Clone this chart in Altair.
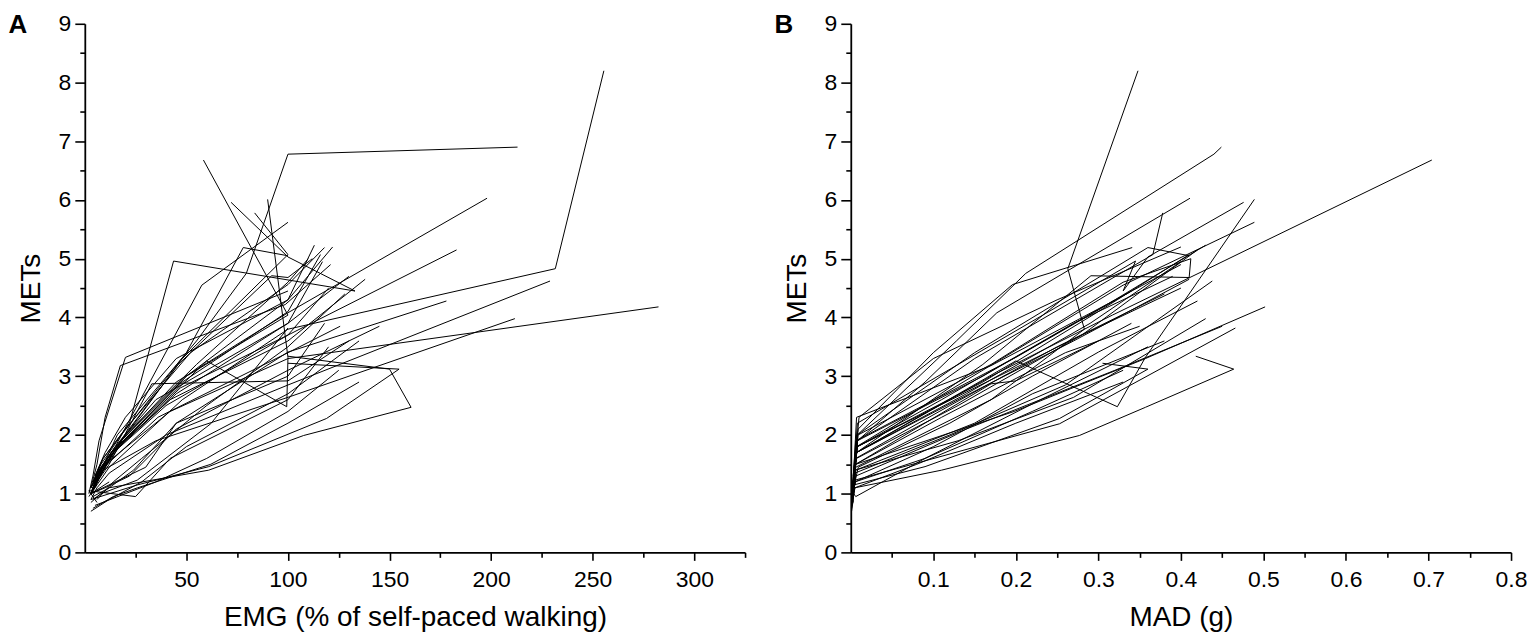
import altair as alt
import pandas as pd

# ---------------- data ----------------
subjects = [f"P{i:02d}" for i in range(1, 39)]

mets = [
    [1.00, 1.15, 1.45, 2.60, 3.80, 4.83, 8.20],
    [1.10, 1.40, 2.00, 3.60, 4.75, 6.78, 6.90],
    [1.00, 1.30, 1.70, 3.00, 4.04, 6.68],
    [1.20, 1.40, 1.90, 2.90, 4.08, 6.03],
    [1.10, 1.30, 1.60, 2.50, 3.70, 5.15],
    [1.00, 1.20, 1.50, 2.40, 3.30, 4.18],
    [0.90, 1.10, 1.35, 2.00, 2.85, 4.62],
    [0.95, 1.10, 1.40, 1.90, 2.64, 3.98],
    [1.30, 1.60, 2.20, 4.96, 4.45, 5.03, 5.96],
    [1.10, 1.40, 1.80, 4.55, 5.62],
    [1.20, 1.40, 1.90, 3.30, 5.07, 5.78],
    [1.00, 1.30, 1.70, 3.26, 2.48, 3.32, 6.01],
    [0.90, 1.10, 1.40, 2.20, 3.41, 4.28],
    [1.10, 1.40, 1.90, 3.00, 4.30, 5.23],
    [1.00, 1.30, 1.80, 2.90, 4.10, 5.07],
    [1.00, 1.20, 1.70, 2.70, 3.90, 4.95],
    [1.10, 1.30, 1.70, 2.60, 3.60, 4.65],
    [0.90, 1.20, 1.60, 2.50, 3.50, 4.40],
    [1.00, 1.20, 1.50, 2.30, 3.40, 3.85],
    [1.20, 1.50, 2.00, 3.20, 4.60, 5.00],
    [1.00, 1.30, 1.80, 2.80, 3.70, 4.50],
    [1.00, 1.20, 1.50, 2.87, 2.92, 3.60],
    [0.95, 1.10, 1.40, 1.99, 2.47, 3.12, 3.34],
    [0.90, 1.15, 1.46, 2.28, 3.12, 3.22],
    [0.85, 1.00, 1.23, 2.19, 3.82],
    [1.00, 1.30, 1.90, 3.32, 4.45],
    [1.10, 1.50, 2.30, 3.18, 4.22, 4.90],
    [0.80, 1.00, 1.20, 1.60, 2.40, 3.10],
    [1.20, 1.60, 2.10, 3.40, 4.56, 5.19],
    [1.10, 1.30, 1.70, 3.20, 4.71, 4.68, 5.00],
    [1.20, 1.50, 2.00, 3.40, 5.19, 5.05],
    [0.70, 0.90, 1.20, 1.80, 2.70, 3.60],
    [1.00, 1.10, 1.30, 2.10, 3.10, 3.85],
    [1.30, 1.70, 2.30, 3.30, 4.30, 5.20],
    [1.00, 1.40, 1.80, 2.60, 3.90, 4.70],
    [0.75, 0.95, 1.10, 1.50, 2.20, 2.90],
    [0.85, 1.05, 0.95, 1.60, 2.60, 3.50],
    [1.20, 1.00, 1.45, 2.20, 3.00, 3.90],
]

emg = [
    [3, 6, 12, 48, 100, 231.6, 255.5],
    [4, 8, 16, 55, 79.5, 100, 213],
    [3, 7, 14, 50, 100, 58.4],
    [4, 9, 18, 45, 100, 198],
    [3, 6, 11, 40, 100, 183],
    [3, 5, 10, 42, 100, 282.4],
    [3, 6, 12, 40, 100, 229],
    [2, 5, 9, 35, 100, 211.7],
    [5, 9, 22, 43.7, 133, 100, 72],
    [3, 7, 15, 57.6, 100],
    [4, 8, 18, 48, 100, 83.6],
    [3, 6, 13, 60, 99.4, 100, 90],
    [4, 12, 24, 45, 100, 178],
    [4, 8, 18, 50, 100, 113],
    [3, 7, 16, 48, 100, 116],
    [3, 6, 14, 45, 100, 117],
    [3, 6, 13, 42, 100, 138],
    [6, 14, 28, 60, 100, 128],
    [3, 6, 11, 36, 100, 125.7],
    [4, 9, 20, 55, 100, 110],
    [3, 7, 17, 47, 100, 120],
    [3, 6, 12, 33, 100, 130],
    [4, 12, 61, 107.7, 160.6, 150, 100],
    [3, 26, 61, 119, 154.7, 100],
    [3, 8, 25.8, 62, 100],
    [2, 4, 7, 20, 100],
    [3, 6, 10, 17.5, 98.7, 121],
    [5, 20, 35, 60, 100, 125],
    [4, 9, 20, 52, 100, 118],
    [3, 6, 13, 46, 92, 100, 112],
    [4, 8, 18, 50, 78, 100],
    [3, 12, 28, 50, 100, 135],
    [3, 10, 22, 45, 100, 145],
    [5, 10, 20, 45, 100, 122],
    [3, 7, 15, 35, 100, 130],
    [4, 14, 26, 62, 100, 135],
    [6, 2, 25, 42, 100, 120],
    [12, 3, 30, 45, 100, 118],
]

mad = [
    [0.002, 0.004, 0.006, 0.17, 0.283, 0.263, 0.348],
    [0.003, 0.005, 0.008, 0.128, 0.212, 0.44, 0.449],
    [0.002, 0.004, 0.007, 0.17, 0.317, 0.704],
    [0.003, 0.005, 0.008, 0.09, 0.177, 0.411],
    [0.002, 0.004, 0.007, 0.13, 0.28, 0.42],
    [0.002, 0.003, 0.006, 0.198, 0.357, 0.502],
    [0.002, 0.003, 0.005, 0.12, 0.26, 0.438],
    [0.002, 0.003, 0.005, 0.13, 0.27, 0.43],
    [0.003, 0.005, 0.008, 0.345, 0.33, 0.36, 0.476],
    [0.002, 0.004, 0.007, 0.33, 0.489],
    [0.003, 0.005, 0.008, 0.15, 0.366, 0.378],
    [0.002, 0.004, 0.007, 0.20, 0.323, 0.357, 0.489],
    [0.002, 0.004, 0.006, 0.15, 0.30, 0.42],
    [0.003, 0.005, 0.008, 0.16, 0.32, 0.43],
    [0.002, 0.004, 0.008, 0.16, 0.30, 0.41],
    [0.002, 0.004, 0.007, 0.14, 0.29, 0.40],
    [0.002, 0.004, 0.007, 0.13, 0.27, 0.41],
    [0.002, 0.004, 0.006, 0.12, 0.25, 0.38],
    [0.002, 0.004, 0.006, 0.11, 0.26, 0.35],
    [0.003, 0.005, 0.009, 0.17, 0.33, 0.412],
    [0.002, 0.004, 0.008, 0.15, 0.28, 0.40],
    [0.002, 0.004, 0.006, 0.17, 0.20, 0.30],
    [0.003, 0.005, 0.11, 0.277, 0.357, 0.464, 0.418],
    [0.002, 0.004, 0.09, 0.253, 0.36, 0.305],
    [0.002, 0.003, 0.005, 0.253, 0.466],
    [0.002, 0.003, 0.006, 0.20, 0.34],
    [0.002, 0.004, 0.007, 0.17, 0.31, 0.40],
    [0.002, 0.003, 0.005, 0.09, 0.22, 0.33],
    [0.003, 0.005, 0.009, 0.10, 0.196, 0.341],
    [0.002, 0.004, 0.007, 0.16, 0.291, 0.41, 0.412],
    [0.003, 0.005, 0.008, 0.15, 0.36, 0.41],
    [0.001, 0.003, 0.005, 0.10, 0.22, 0.38],
    [0.002, 0.004, 0.006, 0.14, 0.32, 0.45],
    [0.004, 0.006, 0.010, 0.10, 0.25, 0.40],
    [0.002, 0.005, 0.008, 0.11, 0.27, 0.39],
    [0.001, 0.003, 0.005, 0.08, 0.20, 0.33],
    [0.003, 0.001, 0.006, 0.09, 0.23, 0.36],
    [0.006, 0.002, 0.009, 0.12, 0.22, 0.34],
]

y_ticks = [0, 1, 2, 3, 4, 5, 6, 7, 8, 9]
y_minor = [0.5, 1.5, 2.5, 3.5, 4.5, 5.5, 6.5, 7.5, 8.5]
emg_ticks = [50, 100, 150, 200, 250, 300]
emg_minor = [25, 75, 125, 175, 225, 275, 325]
mad_ticks = [0.1, 0.2, 0.3, 0.4, 0.5, 0.6, 0.7, 0.8]
mad_minor = [0.05, 0.15, 0.25, 0.35, 0.45, 0.55, 0.65, 0.75]

rows = []
for s, m, e, d in zip(subjects, mets, emg, mad):
    for k, (mm, ee, dd) in enumerate(zip(m, e, d)):
        rows.append({"subject": s, "step": k, "mets": mm, "emg": ee, "mad": dd})
df = pd.DataFrame(rows)

FONT = "Liberation Sans"
W, H = 662, 530
TICK_FS = 23
TITLE_FS = 28


def panel(xfield, xdomain, xticks, xminor, xtitle, label, fmt):
    base = alt.Chart(df)
    lines = base.mark_line(color="black", strokeWidth=1).encode(
        x=alt.X(
            f"{xfield}:Q",
            scale=alt.Scale(domain=xdomain, nice=False, zero=False),
            axis=alt.Axis(
                orient="bottom", values=xticks, format=fmt, title=xtitle,
                tickSize=8, tickWidth=1.6, domainWidth=1.8, domainColor="black",
                tickColor="black", labelColor="black", labelFont=FONT,
                labelFontSize=TICK_FS, labelPadding=8, titleFont=FONT,
                titleFontSize=TITLE_FS, titleFontWeight="normal",
                titleColor="black", titlePadding=12, grid=False,
                labelFlush=False,
            ),
        ),
        y=alt.Y(
            "mets:Q",
            scale=alt.Scale(domain=[0, 9], nice=False),
            axis=alt.Axis(
                orient="left", values=y_ticks, title="METs",
                tickSize=10, tickWidth=1.6, domainWidth=1.8, domainColor="black",
                tickColor="black", labelColor="black", labelFont=FONT,
                labelFontSize=TICK_FS, labelPadding=4, titleFont=FONT,
                titleFontSize=TITLE_FS, titleFontWeight="normal",
                titleColor="black", titlePadding=13, grid=False,
                labelFlush=False,
            ),
        ),
        detail="subject:N",
        order="step:Q",
    )
    minor = base.mark_point(opacity=0).encode(
        x=alt.X(
            f"{xfield}:Q",
            axis=alt.Axis(
                orient="bottom", values=xminor, labels=False, domain=False,
                tickSize=5, tickWidth=1.6, tickColor="black", title=None,
                grid=False,
            ),
        ),
        y=alt.Y(
            "mets:Q",
            axis=alt.Axis(
                orient="left", values=y_minor, labels=False, domain=False,
                tickSize=5, tickWidth=1.6, tickColor="black", title=None,
                grid=False,
            ),
        ),
    )
    tag = alt.Chart(pd.DataFrame({"t": [label]})).mark_text(
        font=FONT, fontSize=26, fontWeight="bold", align="center",
        baseline="middle", color="black",
    ).encode(x=alt.value(-67), y=alt.value(1), text="t:N")
    return (
        alt.layer(lines, minor, tag)
        .resolve_axis(x="independent", y="independent")
        .properties(width=W, height=H)
    )


panel_a = panel("emg", [0, 325], emg_ticks, emg_minor,
                "EMG (% of self-paced walking)", "A", "d")
panel_b = panel("mad", [0, 0.8], mad_ticks, mad_minor, "MAD (g)", "B", ".1f")

chart = (
    alt.hconcat(panel_a, panel_b, spacing=28)
    .properties(padding={"left": 0, "top": 3, "right": 0, "bottom": 0},
                background="white")
    .configure_view(strokeWidth=0)
)

chart.save("out.html", embed_options={"renderer": "svg", "actions": False})
